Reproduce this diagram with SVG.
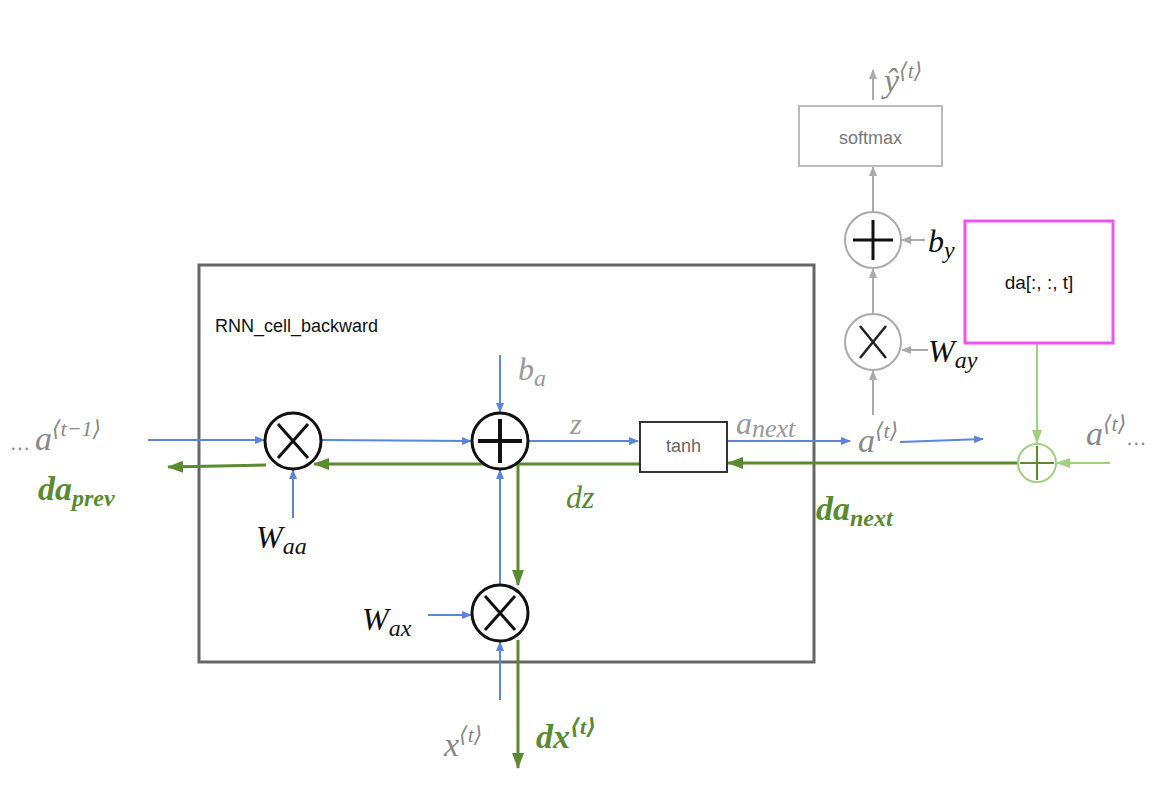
<svg xmlns="http://www.w3.org/2000/svg" width="1166" height="788" viewBox="0 0 1166 788">
<style>
.m{font-family:"Liberation Serif","DejaVu Serif",serif;font-style:italic}
.s{font-family:"Liberation Sans",Arial,sans-serif}
.bl{stroke:#5b85d8;stroke-width:2;fill:none}
.gr{stroke:#5a8a32;stroke-width:3;fill:none}
.lg{stroke:#9fd07e;stroke-width:2;fill:none}
.gy{stroke:#aaa;stroke-width:2;fill:none}
.op{fill:#fff;stroke:#111;stroke-width:3}
.opg{fill:#fff;stroke:#aaa;stroke-width:2}
</style>
<defs>
<marker id="ab" markerWidth="10" markerHeight="10" refX="9" refY="5" orient="auto" markerUnits="userSpaceOnUse"><path d="M0,1 L10,5 L0,9 Z" fill="#5b85d8"/></marker>
<marker id="ag" markerWidth="16" markerHeight="14" refX="15" refY="7" orient="auto" markerUnits="userSpaceOnUse"><path d="M0,1 L16,7 L0,13 Z" fill="#5a8a32"/></marker>
<marker id="al" markerWidth="14" markerHeight="12" refX="13" refY="6" orient="auto" markerUnits="userSpaceOnUse"><path d="M0,1 L14,6 L0,11 Z" fill="#9fd07e"/></marker>
<marker id="ay" markerWidth="10" markerHeight="10" refX="9" refY="5" orient="auto" markerUnits="userSpaceOnUse"><path d="M0,1 L10,5 L0,9 Z" fill="#aaa"/></marker>
</defs>
<rect width="1166" height="788" fill="#fff"/>
<g id="cell"><rect x="199" y="265" width="615" height="397" fill="none" stroke="#666" stroke-width="3"/>
<text x="215" y="332" class="s" font-size="18" fill="#111">RNN_cell_backward</text></g>
<g id="connectors">
<line x1="148" y1="440" x2="264" y2="440" class="bl" marker-end="url(#ab)"/>
<line x1="321" y1="440" x2="471" y2="441" class="bl" marker-end="url(#ab)"/>
<line x1="528" y1="441" x2="638" y2="441" class="bl" marker-end="url(#ab)"/>
<line x1="727" y1="441" x2="850" y2="441" class="bl" marker-end="url(#ab)"/>
<line x1="900" y1="442" x2="983" y2="439" class="bl" marker-end="url(#ab)"/>
<line x1="500" y1="355" x2="500" y2="412" class="bl" marker-end="url(#ab)"/>
<line x1="293" y1="518" x2="293" y2="470" class="bl" marker-end="url(#ab)"/>
<line x1="500" y1="585" x2="500" y2="470" class="bl" marker-end="url(#ab)"/>
<line x1="500" y1="700" x2="500" y2="642" class="bl" marker-end="url(#ab)"/>
<line x1="428" y1="615" x2="471" y2="615" class="bl" marker-end="url(#ab)"/>
<line x1="1018" y1="463" x2="728" y2="463" class="gr" marker-end="url(#ag)"/>
<line x1="640" y1="464" x2="314" y2="464" class="gr" marker-end="url(#ag)"/>
<line x1="266" y1="465" x2="168" y2="467" class="gr" marker-end="url(#ag)"/>
<line x1="518" y1="464" x2="518" y2="585" class="gr" marker-end="url(#ag)"/>
<line x1="518" y1="640" x2="518" y2="768" class="gr" marker-end="url(#ag)"/>
<line x1="1037" y1="343" x2="1037" y2="443" class="lg" marker-end="url(#al)"/>
<line x1="1110" y1="463" x2="1057" y2="463" class="lg" marker-end="url(#al)"/>
<line x1="873" y1="415" x2="873" y2="371" class="gy" marker-end="url(#ay)"/>
<line x1="873" y1="314" x2="873" y2="269" class="gy" marker-end="url(#ay)"/>
<line x1="873" y1="212" x2="873" y2="167" class="gy" marker-end="url(#ay)"/>
<line x1="873" y1="100" x2="873" y2="70" class="gy" marker-end="url(#ay)"/>
<line x1="925" y1="240" x2="902" y2="240" class="gy" marker-end="url(#ay)"/>
<line x1="928" y1="350" x2="902" y2="350" class="gy" marker-end="url(#ay)"/>
</g>
<g id="mul1"><circle cx="293" cy="441" r="28" class="op"/><path d="M278,424 L308,458 M308,424 L278,458" stroke="#111" stroke-width="3"/></g>
<g id="add1"><circle cx="500" cy="441" r="28" class="op"/><path d="M478,441 H522 M500,419 V463" stroke="#111" stroke-width="4"/></g>
<g id="mul2"><circle cx="500" cy="613" r="28" class="op"/><path d="M485,596 L515,630 M515,596 L485,630" stroke="#111" stroke-width="3"/></g>
<g id="tanh"><rect x="640" y="422" width="87" height="50" fill="#fff" stroke="#333" stroke-width="2"/><text x="683.5" y="452" class="s" font-size="18" fill="#666" text-anchor="middle">tanh</text></g>
<g id="softmax"><rect x="799" y="106" width="143" height="60" fill="#fff" stroke="#bbb" stroke-width="2"/><text x="870.5" y="144" class="s" font-size="18" fill="#777" text-anchor="middle">softmax</text></g>
<g id="addy"><circle cx="873" cy="240" r="28" class="opg"/><path d="M853,240 H893 M873,220 V260" stroke="#111" stroke-width="3"/></g>
<g id="muly"><circle cx="873" cy="342" r="28" class="opg"/><path d="M860,326 L886,358 M886,326 L860,358" stroke="#222" stroke-width="2.5"/></g>
<g id="da"><rect x="965" y="221" width="148" height="122" fill="#fff" stroke="#ee55ee" stroke-width="3"/><text x="1039" y="289" class="s" font-size="19" fill="#111" text-anchor="middle">da[:, :, t]</text></g>
<g id="addg"><circle cx="1037" cy="463" r="19" fill="#fff" stroke="#9fd07e" stroke-width="2"/><path d="M1020,463 H1054 M1037,446 V480" stroke="#5a8a32" stroke-width="2"/></g>
<g id="labels">
<text x="10" y="450" class="m" font-size="34" fill="#888"><tspan font-style="normal" font-size="20">… </tspan>a<tspan dy="-14" font-size="22">⟨t−1⟩</tspan></text>
<text x="38" y="500" class="m" font-size="34" font-weight="bold" fill="#5a8a32">da<tspan dy="6" font-size="24">prev</tspan></text>
<text x="256" y="548" class="m" font-size="32" fill="#111">W<tspan dy="6" font-size="24">aa</tspan></text>
<text x="518" y="380" class="m" font-size="32" fill="#999">b<tspan dy="6" font-size="24">a</tspan></text>
<text x="570" y="434" class="m" font-size="30" fill="#999">z</text>
<text x="566" y="508" class="m" font-size="32" fill="#5a8a32">dz</text>
<text x="736" y="434" class="m" font-size="32" fill="#999">a<tspan dy="3" font-size="26">next</tspan></text>
<text x="858" y="452" class="m" font-size="34" fill="#888">a<tspan dy="-14" font-size="22">⟨t⟩</tspan></text>
<text x="816" y="520" class="m" font-size="34" font-weight="bold" fill="#5a8a32">da<tspan dy="6" font-size="24">next</tspan></text>
<text x="1086" y="445" class="m" font-size="34" fill="#888">a<tspan dy="-14" font-size="22">⟨t⟩</tspan><tspan dy="14" font-style="normal" font-size="20">…</tspan></text>
<text x="362" y="630" class="m" font-size="32" fill="#111">W<tspan dy="6" font-size="24">ax</tspan></text>
<text x="444" y="756" class="m" font-size="34" fill="#888">x<tspan dy="-14" font-size="22">⟨t⟩</tspan></text>
<text x="536" y="748" class="m" font-size="34" font-weight="bold" fill="#5a8a32">dx<tspan dy="-14" font-size="22">⟨t⟩</tspan></text>
<text x="928" y="252" class="m" font-size="32" fill="#111">b<tspan dy="6" font-size="24">y</tspan></text>
<text x="928" y="362" class="m" font-size="32" fill="#111">W<tspan dy="6" font-size="24">ay</tspan></text>
<text x="884" y="92" class="m" font-size="34" fill="#888">ŷ<tspan dy="-14" font-size="22">⟨t⟩</tspan></text>
</g>
</svg>
